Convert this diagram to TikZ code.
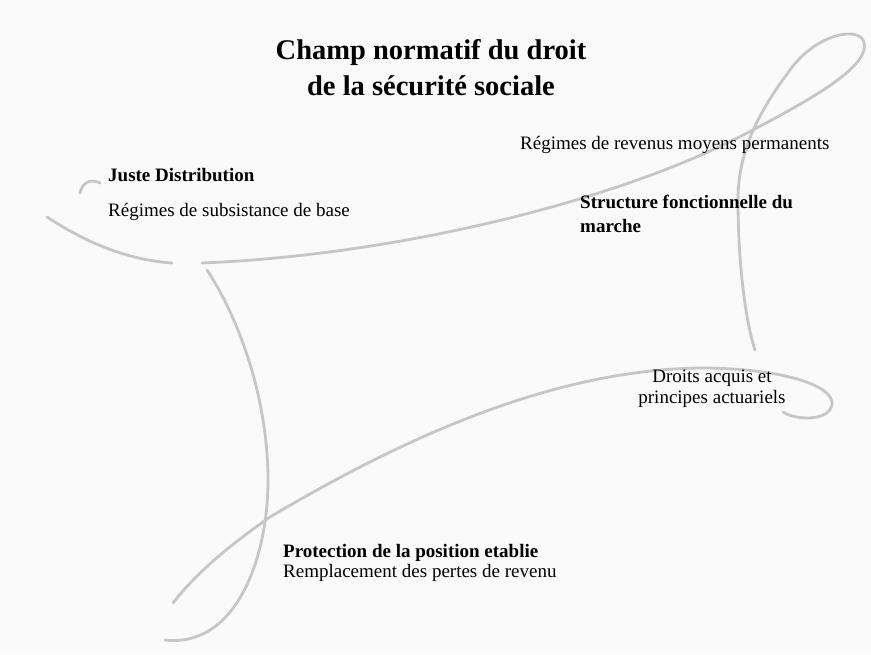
\documentclass[tikz,border=0pt]{standalone}
\usepackage{fontspec}
\setmainfont{Liberation Serif}

\def \ribbonWidth {2.8pt}
\def \textSize {\fontsize{19}{22}\selectfont}

\tikzset{
   ribbon/.style={draw=gray!45, line width=\ribbonWidth, line cap=round, line join=round},
   headline/.style={font=\fontsize{28.5}{34}\selectfont\bfseries, inner sep=0pt, anchor=base},
   boldlabel/.style={font=\textSize\bfseries, inner sep=0pt, anchor=base west},
   plainlabel/.style={font=\textSize, inner sep=0pt, anchor=base west},
   centerlabel/.style={font=\textSize, inner sep=0pt, anchor=base},
}

\begin{document}
\begin{tikzpicture}[x=1pt, y=-1pt]

      \fill[gray!4] (0,0) rectangle (871,654);
      \useasboundingbox (0,0) rectangle (871,654);

      % ribbon
      \draw[ribbon] (47,217) .. controls (90,245) and (130,260) .. (172,263);
      \draw[ribbon] (80,193) .. controls (82,183) and (90,178) .. (100,183);
      \draw[ribbon] (202,263) .. controls (400,255) and (620,200) .. (747,133)
         .. controls (820,95) and (870,65) .. (864,42)
         .. controls (858,25) and (815,35) .. (790,70)
         .. controls (760,110) and (738,150) .. (738,200)
         .. controls (738,260) and (745,320) .. (755,350);
      \draw[ribbon] (207,270) .. controls (240,320) and (268,400) .. (268,480)
         .. controls (268,560) and (235,648) .. (165,640);
      \draw[ribbon] (173,603) .. controls (200,568) and (240,538) .. (270,517)
         .. controls (400,440) and (550,370) .. (700,368)
         .. controls (780,368) and (835,385) .. (832,405)
         .. controls (828,422) and (795,420) .. (783,412);

      % title
      \node[headline] (title1) at (431,59) {Champ normatif du droit};
      \node[headline] (title2) at (431,95) {de la sécurité sociale};

      % labels
      \node[boldlabel] (juste) at (108,181) {Juste Distribution};
      \node[plainlabel] (subsist) at (108,216) {Régimes de subsistance de base};

      \node[plainlabel] (moyens) at (520,149) {Régimes de revenus moyens permanents};
      \node[boldlabel] (marche1) at (580,208) {Structure fonctionnelle du};
      \node[boldlabel] (marche2) at (580,232) {marche};

      \node[centerlabel] (droits) at (712,382) {Droits acquis et};
      \node[centerlabel] (actuar) at (712,403) {principes actuariels};

      \node[boldlabel] (protect) at (283,557) {Protection de la position etablie};
      \node[plainlabel] (rempl) at (283,577) {Remplacement des pertes de revenu};

\end{tikzpicture}
\end{document}
